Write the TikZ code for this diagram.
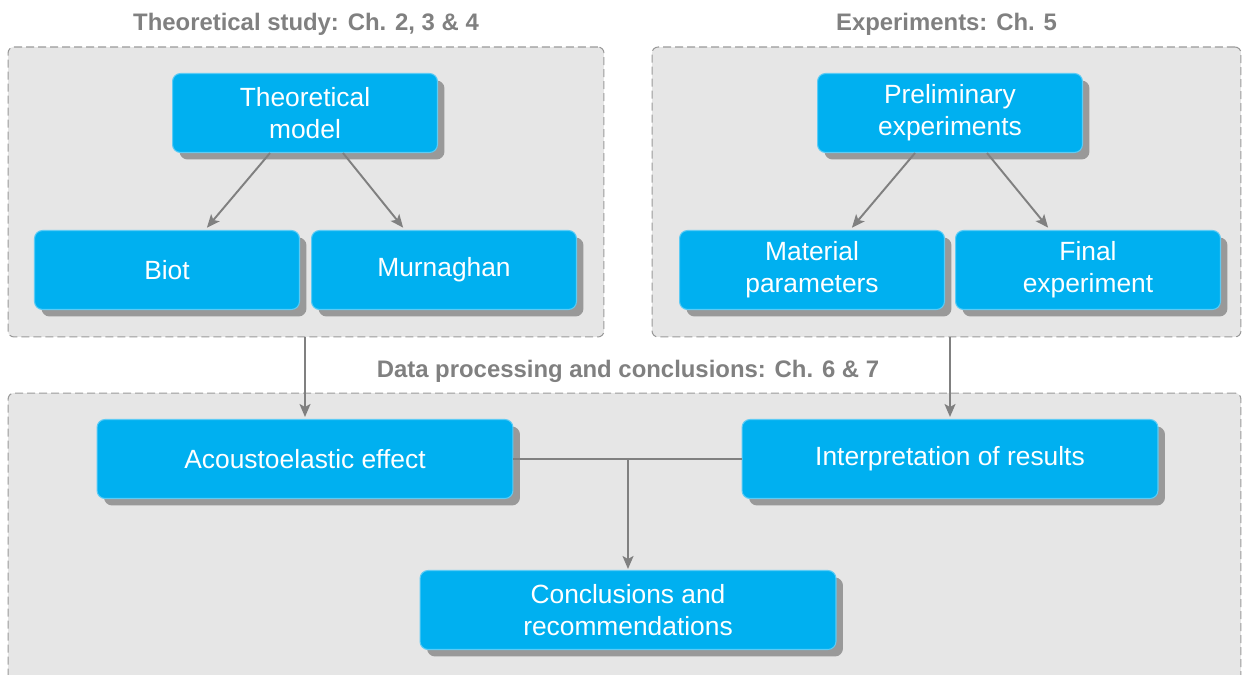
\documentclass[tikz,border=0pt]{standalone}
\usepackage{fontspec}
\setmainfont{Liberation Sans}
\usetikzlibrary{arrows.meta,positioning,shadows}

\definecolor{boxblue}{HTML}{00B0F0}
\definecolor{boxedge}{HTML}{5CCBF5}
\definecolor{groupfill}{HTML}{E6E6E6}
\definecolor{groupedge}{HTML}{9A9A9A}
\definecolor{titlegray}{HTML}{808080}
\definecolor{shadowgray}{HTML}{999999}
\definecolor{linegray}{HTML}{808080}

\tikzset{
  block/.style={rectangle, rounded corners=0.16cm, fill=boxblue, draw=boxedge, line width=0.6pt,
    text=white, align=center, minimum width=5.3cm, minimum height=1.58cm,
    font=\fontsize{15}{18}\selectfont,
    drop shadow={shadow xshift=0.14cm, shadow yshift=-0.14cm, fill=shadowgray, opacity=1}},
  wideblock/.style={block, minimum width=8.32cm},
  group/.style={rectangle, rounded corners=0.12cm, fill=groupfill, draw=groupedge,
    dash pattern=on 0.16cm off 0.08cm, line width=0.6pt},
  grouptitle/.style={font=\fontsize{13.6}{16}\selectfont\bfseries, text=titlegray, inner sep=0pt},
  link/.style={draw=linegray, line width=1.1pt, -{Stealth[length=0.26cm, width=0.22cm, inset=0.06cm]}},
  plainlink/.style={draw=linegray, line width=1.1pt}
}

\begin{document}
\begin{tikzpicture}[x=0.02cm, y=-0.02cm]
	\useasboundingbox (0,0) rectangle (1243,675);
	\clip (0,0) rectangle (1243,675);
	
	% groups
	\node[group, minimum width=11.92cm, minimum height=5.8cm] (theory) at (306,192) {};
	\node[group, minimum width=11.78cm, minimum height=5.8cm] (exper) at (946.5,192) {};
	\node[group, minimum width=24.66cm, minimum height=5.94cm] (process) at (624.5,541.5) {};
	
	\node[grouptitle, above=0.22cm of theory] (theorytitle) {Theoretical study: Ch. 2, 3 \& 4};
	\node[grouptitle, above=0.22cm of exper] (expertitle) {Experiments: Ch. 5};
	\node[grouptitle, above=0.2cm of process, xshift=0.07cm] (processtitle) {Data processing and conclusions: Ch. 6 \& 7};
	
	% theory
	\node[block] (model) at (305,113) {Theoretical\\model};
	\node[block] (biot) at (167,270) {Biot};
	\node[block] (murn) at (444,270) {Murnaghan};
	
	% experiments
	\node[block] (prelim) at (950,113) {Preliminary\\experiments};
	\node[block] (matpar) at (812,270) {Material\\parameters};
	\node[block] (final) at (1088,270) {Final\\experiment};
	
	% processing
	\node[wideblock] (acoustic) at (305,459) {Acoustoelastic effect};
	\node[wideblock] (interp) at (950,459) {Interpretation of results};
	\node[wideblock] (concl) at (628,610) {Conclusions and\\recommendations};
	
	\draw[link, shorten >=0.06cm] ([xshift=-0.7cm]model.south) -- ([xshift=0.76cm]biot.north);
	\draw[link, shorten >=0.06cm] ([xshift=0.76cm]model.south) -- ([xshift=-0.78cm]murn.north);
	\draw[link, shorten >=0.06cm] ([xshift=-0.7cm]prelim.south) -- ([xshift=0.76cm]matpar.north);
	\draw[link, shorten >=0.06cm] ([xshift=0.74cm]prelim.south) -- ([xshift=-0.76cm]final.north);
	
	\draw[link, shorten >=0.04cm] (acoustic.north |- theory.south) -- (acoustic.north);
	\draw[link, shorten >=0.04cm] (interp.north |- exper.south) -- (interp.north);
	
	\draw[plainlink] (acoustic.east) -- (interp.west);
	\draw[link, shorten >=0.02cm] (acoustic.east -| concl.north) -- (concl.north);
\end{tikzpicture}
\end{document}
